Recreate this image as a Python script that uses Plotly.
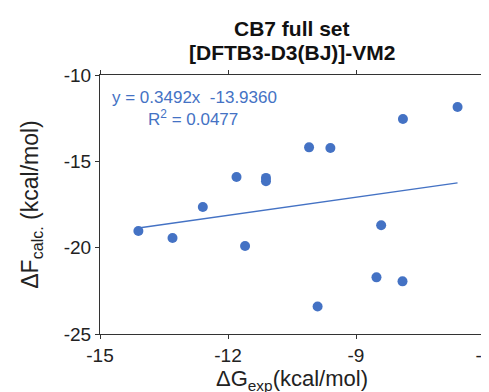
import plotly.graph_objects as go

dg_exp = [-14.10, -13.30, -12.59, -11.80, -11.60, -11.11, -11.11, -10.10, -9.60,
          -8.41, -8.52, -7.91, -9.90, -6.62, -7.90]
df_calc = [-19.03, -19.44, -17.64, -15.91, -19.90, -15.96, -16.15, -14.19, -14.23,
           -18.70, -21.72, -21.95, -23.41, -11.85, -12.55]
slope = 0.3492
intercept = -13.9360
r2 = 0.0477
x_ticks = [-15, -12, -9, -6]
x_labels = ["-15", "-12", "-9", "-6"]
y_ticks = [-25, -20, -15, -10]
y_labels = ["-25", "-20", "-15", "-10"]

blue = "#4472C4"
fit_x = [min(dg_exp), max(dg_exp)]
fit_y = [slope * v + intercept for v in fit_x]

fig = go.Figure()
fig.add_trace(go.Scatter(x=dg_exp, y=df_calc, mode="markers",
                         marker=dict(color=blue, size=10), showlegend=False))
fig.add_trace(go.Scatter(x=fit_x, y=fit_y, mode="lines",
                         line=dict(color=blue, width=1.5), showlegend=False))

fig.add_annotation(xref="paper", yref="paper", x=0.025, y=0.914, xanchor="left", yanchor="middle",
                   text=f"y = {slope:.4f}x  {intercept:.4f}", showarrow=False,
                   font=dict(color=blue, size=17, family="Liberation Sans, Arial"))
fig.add_annotation(xref="paper", yref="paper", x=0.12, y=0.834, xanchor="left", yanchor="middle",
                   text=f"R<sup>2</sup> = {r2:.4f}", showarrow=False,
                   font=dict(color=blue, size=17, family="Liberation Sans, Arial"))

fig.add_annotation(xref="paper", yref="paper", x=0.5, y=1.181, xanchor="center", yanchor="middle",
                   text="<b>CB7 full set</b>", showarrow=False,
                   font=dict(size=21, color="#111", family="Liberation Sans, Arial"))
fig.add_annotation(xref="paper", yref="paper", x=0.5, y=1.085, xanchor="center", yanchor="middle",
                   text="<b>[DFTB3-D3(BJ)]-VM2</b>", showarrow=False,
                   font=dict(size=21, color="#111", family="Liberation Sans, Arial"))

axis_common = dict(showline=True, linecolor="#333", linewidth=1.2, mirror="ticks",
                   ticks="outside", ticklen=4, tickcolor="#333", showgrid=False,
                   zeroline=False, tickfont=dict(size=19, color="#222"))

fig.update_layout(
    width=489, height=392,
    margin=dict(l=92, r=5, t=67, b=66),
    paper_bgcolor="white", plot_bgcolor="white",
    font=dict(family="Liberation Sans, Arial", color="#222"),
    xaxis=dict(range=[-15, -6], tickvals=x_ticks, ticktext=x_labels,
               title=dict(text="ΔG<sub>exp</sub>(kcal/mol)", font=dict(size=22), standoff=2),
               **axis_common),
    yaxis=dict(range=[-25, -10], tickvals=y_ticks, ticktext=y_labels,
               title=dict(text="ΔF<sub>calc.</sub> (kcal/mol)", font=dict(size=23), standoff=18),
               **axis_common),
)

fig.write_html("out.html")
